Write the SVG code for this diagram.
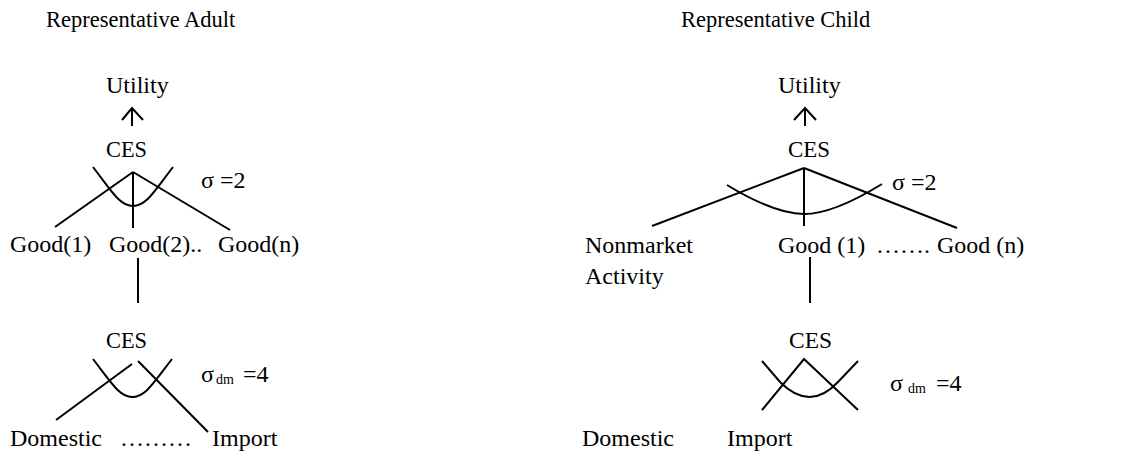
<svg xmlns="http://www.w3.org/2000/svg" width="1146" height="453" viewBox="0 0 1146 453">
<style>
  text { font-family: "Liberation Serif", "Times New Roman", serif; font-size: 24px; fill: #000; }
  .title { font-size: 22.5px; }
  .sub { font-size: 14px; }
  .ln { stroke: #000; stroke-width: 2; fill: none; }
</style>
<rect width="1146" height="453" fill="#fff"/>
<g id="connectors">
  <!-- left panel -->
  <line class="ln" x1="132" y1="126" x2="132" y2="108"/>
  <polyline class="ln" points="122,120 132,108 143,120"/>
  <line class="ln" x1="133" y1="172" x2="55" y2="227"/>
  <line class="ln" x1="133" y1="172" x2="133" y2="228"/>
  <line class="ln" x1="133" y1="172" x2="230" y2="230"/>
  <path class="ln" d="M93,167 C113,193 120,206 133,206 C146,206 153,193 173,167"/>
  <line class="ln" x1="138" y1="258" x2="138" y2="303"/>
  <line class="ln" x1="56" y1="420" x2="132" y2="364"/>
  <line class="ln" x1="138" y1="361" x2="208" y2="432"/>
  <path class="ln" d="M93,359 C113,385 120,397 132,397 C145,397 152,385 172,359"/>
  <!-- right panel -->
  <line class="ln" x1="805" y1="126" x2="805" y2="108"/>
  <polyline class="ln" points="794,120 805,108 816,120"/>
  <line class="ln" x1="804" y1="168" x2="652" y2="226"/>
  <line class="ln" x1="804" y1="168" x2="804" y2="226"/>
  <line class="ln" x1="804" y1="168" x2="957" y2="228"/>
  <path class="ln" d="M727,185 C760,205 785,214 804,214 C823,214 848,205 882,184"/>
  <line class="ln" x1="810" y1="257" x2="810" y2="303"/>
  <polyline class="ln" points="762,410 804,359 858,410"/>
  <path class="ln" d="M762,361 L780,382 Q810,412 838,382 L858,361"/>
</g>
<g id="adult-title"><text class="title" x="46" y="27">Representative Adult</text></g>
<g id="adult-utility"><text x="106" y="93">Utility</text></g>
<g id="adult-ces-top"><text x="106" y="157" textLength="41" lengthAdjust="spacingAndGlyphs">CES</text></g>
<g id="adult-sigma"><text x="201" y="188">σ =2</text></g>
<g id="adult-good1"><text x="10" y="252">Good(1)</text></g>
<g id="adult-good2"><text x="109" y="252">Good(2)..</text></g>
<g id="adult-goodn"><text x="218" y="252">Good(n)</text></g>
<g id="adult-ces-dm"><text x="106" y="348" textLength="41" lengthAdjust="spacingAndGlyphs">CES</text></g>
<g id="adult-sigma-dm"><text x="201" y="382">σ<tspan class="sub" x="216" dy="2">dm</tspan><tspan x="243" dy="-2">=4</tspan></text></g>
<g id="adult-domestic"><text x="10" y="446">Domestic</text></g>
<g id="adult-dots"><text x="120" y="446">………</text></g>
<g id="adult-import"><text x="212" y="446">Import</text></g>

<g id="child-title"><text class="title" x="681" y="27">Representative Child</text></g>
<g id="child-utility"><text x="778" y="93">Utility</text></g>
<g id="child-ces-top"><text x="788" y="157" textLength="42" lengthAdjust="spacingAndGlyphs">CES</text></g>
<g id="child-sigma"><text x="892" y="190">σ =2</text></g>
<g id="child-nonmarket"><text x="585" y="253">Nonmarket</text><text x="585" y="284">Activity</text></g>
<g id="child-good1"><text x="778" y="253">Good (1)</text></g>
<g id="child-dots"><text x="876" y="253">…….</text></g>
<g id="child-goodn"><text x="937" y="253">Good (n)</text></g>
<g id="child-ces-dm"><text x="789" y="348" textLength="43" lengthAdjust="spacingAndGlyphs">CES</text></g>
<g id="child-sigma-dm"><text x="890" y="391">σ<tspan class="sub" x="908" dy="2">dm</tspan><tspan x="936" dy="-2">=4</tspan></text></g>
<g id="child-domestic"><text x="582" y="446">Domestic</text></g>
<g id="child-import"><text x="727" y="446">Import</text></g>
</svg>
